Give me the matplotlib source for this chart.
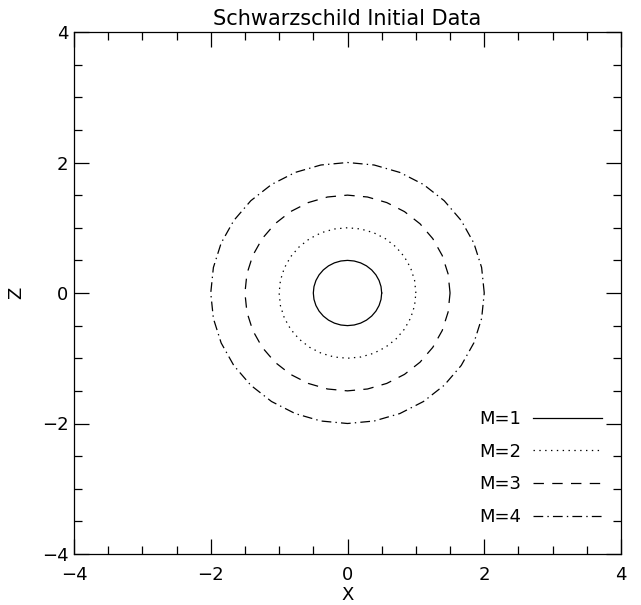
import numpy as np
import matplotlib
matplotlib.use('Agg')
from matplotlib import pyplot as plt
from matplotlib.ticker import MultipleLocator

plt.rcParams['font.family'] = ['DejaVu Sans']
plt.rcParams['lines.scale_dashes'] = False

# masses and the horizon radius r = M/2 in isotropic coordinates
masses = [1, 2, 3, 4]
radii = [0.5, 1.0, 1.5, 2.0]
labels = ['M=1', 'M=2', 'M=3', 'M=4']
styles = ['-', (0, (1, 3.2)), (0, (7.5, 6)), (0, (7, 3, 1, 3))]

fig = plt.figure(figsize=(6.41, 6.05), dpi=100)
ax = fig.add_axes([74 / 641, 1 - 554 / 605, 547 / 641, 522 / 605])

# coarse angular sampling, like a contour on a grid
theta = np.linspace(0, 2 * np.pi, 33)
for r, lab, ls in zip(radii, labels, styles):
    ax.plot(r * np.cos(theta), r * np.sin(theta), color='black', lw=0.9,
            linestyle=ls, label=lab)

ax.set_xlim(-4, 4)
ax.set_ylim(-4, 4)
ax.xaxis.set_major_locator(MultipleLocator(2))
ax.yaxis.set_major_locator(MultipleLocator(2))
ax.xaxis.set_minor_locator(MultipleLocator(0.5))
ax.yaxis.set_minor_locator(MultipleLocator(0.5))
ax.tick_params(which='both', direction='in', top=True, right=True,
               width=0.9, labelsize=13)
ax.tick_params(axis='x', which='both', pad=9)
ax.tick_params(axis='y', which='both', pad=4)
ax.tick_params(which='major', length=11)
ax.tick_params(which='minor', length=6)
for s in ax.spines.values():
    s.set_linewidth(0.9)

ax.set_title('Schwarzschild Initial Data', fontsize=15, pad=5)
ax.set_xlabel('X', fontsize=13, labelpad=1)
ax.set_ylabel('Z', fontsize=13, labelpad=12)

ax.legend(loc='lower right', frameon=False, markerfirst=False,
          handlelength=3.8, fontsize=13, labelspacing=0.82,
          handletextpad=0.7, bbox_to_anchor=(0.995, 0.022))

fig.savefig('out.png', dpi=100)
